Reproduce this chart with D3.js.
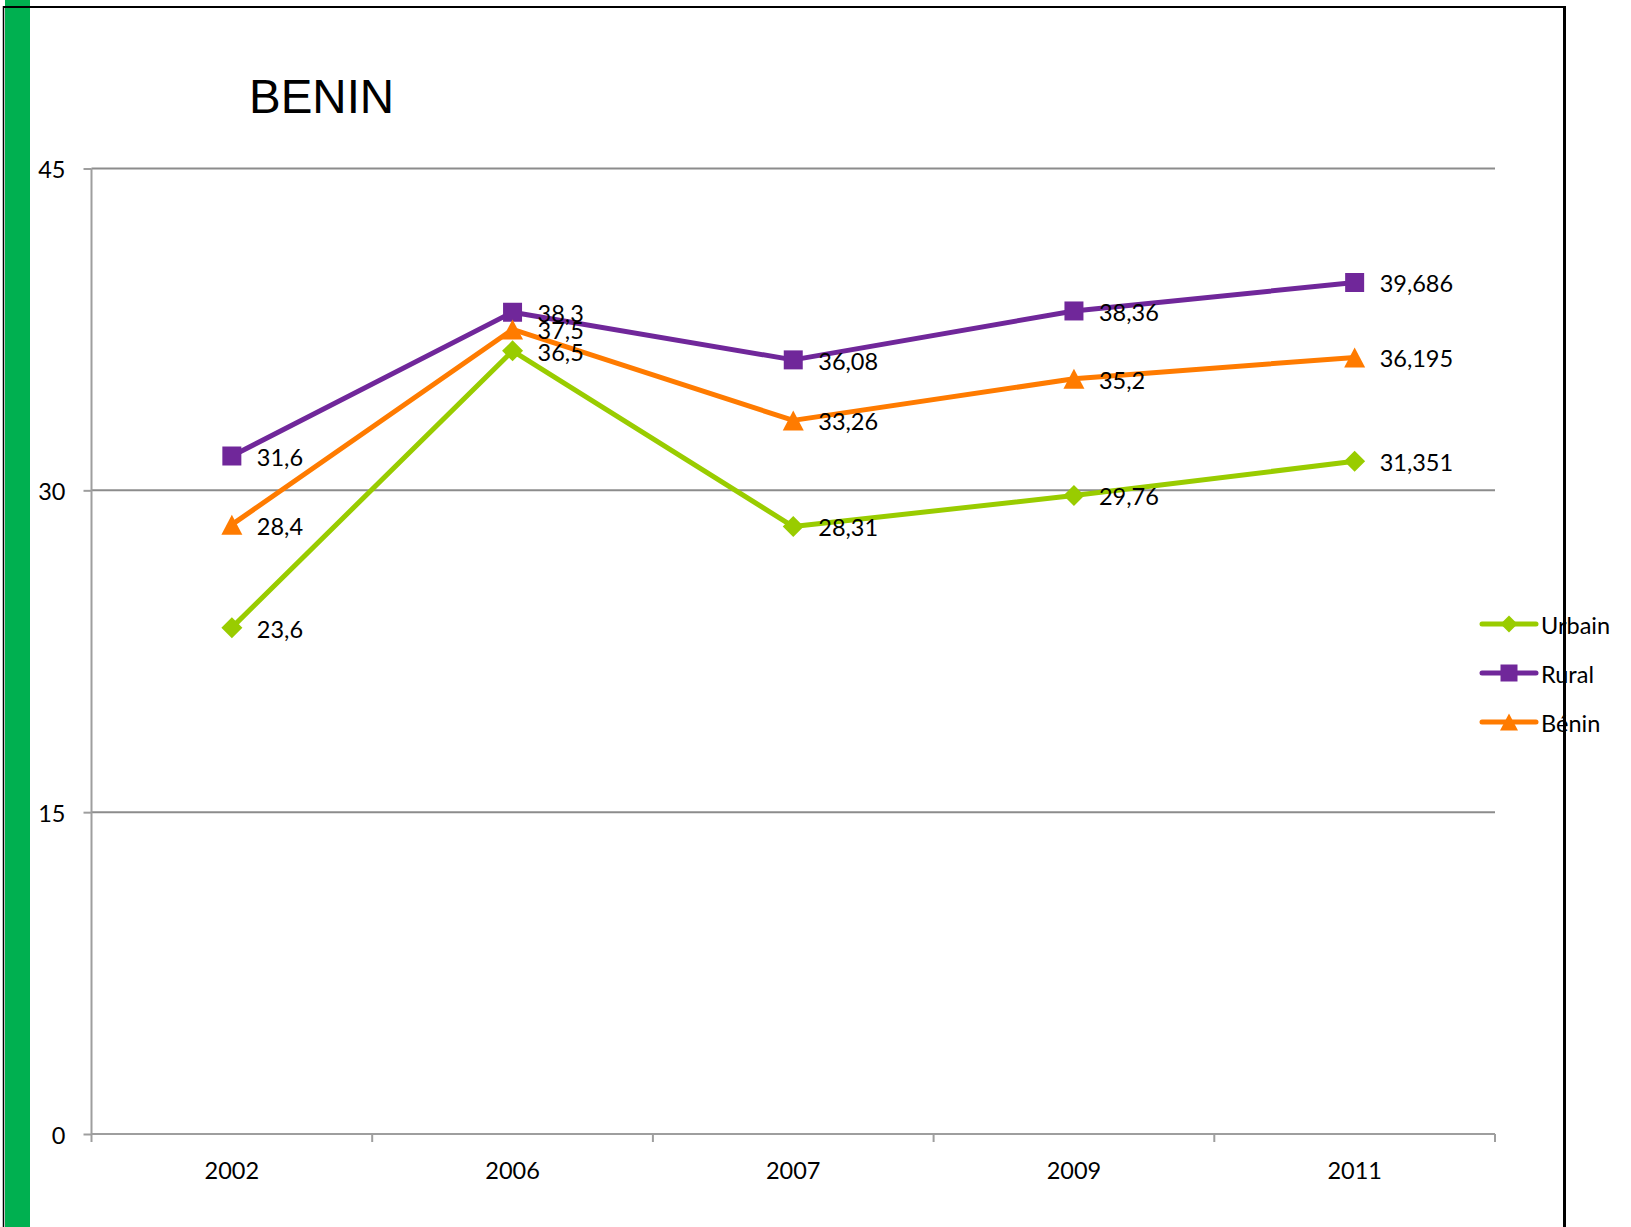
<!doctype html>
<html>
<head>
  <meta charset="utf-8">
  <title>BENIN</title>
  <style>
    body { margin: 0; background: #fff; }
    svg { display: block; }
    .lbl { font-family: 'Lato', sans-serif; font-size: 23.5px; fill: #000; }
    .axis text { font-family: 'Lato', sans-serif; font-size: 23.5px; fill: #000; }
  </style>
</head>
<body>
  <div id="chart"></div>
  <script src="https://cdnjs.cloudflare.com/ajax/libs/d3/7.8.5/d3.min.js"></script>
  <script>
    // data
    var years = ["2002", "2006", "2007", "2009", "2011"];
    var urbain = [23.6, 36.5, 28.31, 29.76, 31.351];
    var rural = [31.6, 38.3, 36.08, 38.36, 39.686];
    var benin = [28.4, 37.5, 33.26, 35.2, 36.195];
    var yTicks = [0, 15, 30, 45];
    var seriesNames = ["Urbain", "Rural", "Bénin"];

    var width = 1631, height = 1227;
    var colors = { "Urbain": "#99CC00", "Rural": "#70279A", "Bénin": "#FF7B00" };
    var shapes = { "Urbain": "diamond", "Rural": "square", "Bénin": "triangle" };

    var series = [
      { name: "Urbain", values: urbain },
      { name: "Rural", values: rural },
      { name: "Bénin", values: benin }
    ];

    var x = d3.scaleBand().domain(years).range([91.5, 1495]).padding(0);
    var y = d3.scaleLinear().domain([0, 45]).range([1134, 168.5]);

    function marker(shape, s) {
      var h = s / 2;
      if (shape === "square") return "M" + (-h) + "," + (-h) + "h" + s + "v" + s + "h" + (-s) + "Z";
      if (shape === "diamond") return "M0," + (-h) + "L" + h + ",0L0," + h + "L" + (-h) + ",0Z";
      return "M0," + (-h) + "L" + (h + 0.5) + "," + h + "L" + (-h - 0.5) + "," + h + "Z";
    }

    var svg = d3.select("#chart").append("svg").attr("width", width).attr("height", height);

    // frame: green strip + black border
    svg.append("rect").attr("x", 5).attr("y", 0).attr("width", 25).attr("height", height).attr("fill", "#00B050");
    svg.append("line").attr("x1", 3.5).attr("x2", 3.5).attr("y1", 6).attr("y2", height).attr("stroke", "#000").attr("stroke-width", 1.5);
    svg.append("line").attr("x1", 3).attr("x2", 1566).attr("y1", 7).attr("y2", 7).attr("stroke", "#000").attr("stroke-width", 2);
    svg.append("line").attr("x1", 1564.5).attr("x2", 1564.5).attr("y1", 6).attr("y2", height).attr("stroke", "#000").attr("stroke-width", 3);

    // title
    svg.append("text").attr("x", 249).attr("y", 113)
      .style("font-family", "'Liberation Sans', Arial, sans-serif").style("font-size", "47.5px")
      .text("BENIN");

    // grid lines
    svg.append("g").selectAll("line").data(yTicks.filter(d => d > 0)).join("line")
      .attr("x1", 91.5).attr("x2", 1495)
      .attr("y1", d => y(d)).attr("y2", d => y(d))
      .attr("stroke", "#8c8c8c").attr("stroke-width", 2);

    // y axis
    var yAxis = svg.append("g").attr("class", "axis")
      .attr("transform", "translate(91.5,0)")
      .call(d3.axisLeft(y).tickValues(yTicks).tickSize(8).tickPadding(18));
    yAxis.select(".domain").attr("stroke", "#9e9e9e").attr("stroke-width", 2).attr("d", "M0," + y(45) + "V" + y(0));
    yAxis.selectAll(".tick line").attr("stroke", "#9e9e9e").attr("stroke-width", 2);
    yAxis.selectAll(".tick text").attr("dy", "0.4em");

    // x axis
    var xAxis = svg.append("g").attr("class", "axis")
      .attr("transform", "translate(0," + y(0) + ")")
      .call(d3.axisBottom(x).tickSize(0).tickPadding(28));
    xAxis.select(".domain").attr("stroke", "#9e9e9e").attr("stroke-width", 2).attr("d", "M" + x.range()[0] + ",0H" + x.range()[1]);
    var bounds = years.map(d => x(d)).concat([x.range()[1]]);
    xAxis.selectAll(".bound").data(bounds).join("line").attr("class", "bound")
      .attr("x1", d => d).attr("x2", d => d).attr("y1", 0).attr("y2", 8)
      .attr("stroke", "#9e9e9e").attr("stroke-width", 2);

    var cx = d => x(d) + x.bandwidth() / 2;
    var line = d3.line().x((d, i) => cx(years[i])).y(d => y(d));

    // series lines + markers
    series.forEach(function (s) {
      var g = svg.append("g");
      g.append("path").datum(s.values).attr("d", line)
        .attr("fill", "none").attr("stroke", colors[s.name]).attr("stroke-width", 5)
        .attr("stroke-linejoin", "round").attr("stroke-linecap", "round");
      var sz = shapes[s.name] === "triangle" ? 20 : (shapes[s.name] === "diamond" ? 21 : 19);
      g.selectAll("path.m").data(s.values).join("path").attr("class", "m")
        .attr("transform", (d, i) => "translate(" + cx(years[i]) + "," + y(d) + ")")
        .attr("d", marker(shapes[s.name], sz))
        .attr("fill", colors[s.name]);
    });

    // data labels
    series.forEach(function (s) {
      svg.append("g").selectAll("text").data(s.values).join("text").attr("class", "lbl")
        .attr("x", (d, i) => cx(years[i]) + 25)
        .attr("y", d => y(d))
        .attr("dy", "0.42em")
        .text(d => String(d).replace(".", ","));
    });

    // legend
    var legend = svg.append("g").attr("transform", "translate(1482,0)");
    var ly = d3.scalePoint().domain(seriesNames).range([624, 722]);
    seriesNames.forEach(function (n) {
      var g = legend.append("g").attr("transform", "translate(0," + ly(n) + ")");
      g.append("line").attr("x1", 0).attr("x2", 54).attr("stroke", colors[n]).attr("stroke-width", 5).attr("stroke-linecap", "round");
      g.append("path").attr("transform", "translate(27,0)").attr("d", marker(shapes[n], 17)).attr("fill", colors[n]);
      g.append("text").attr("class", "lbl").attr("x", 59).attr("dy", "0.42em").text(n);
    });
  </script>
</body>
</html>
